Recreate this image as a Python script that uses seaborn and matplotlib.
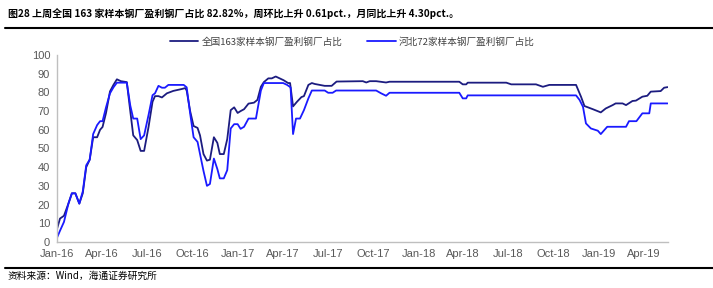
import matplotlib
matplotlib.use("Agg")
import matplotlib.pyplot as plt
import matplotlib.dates as mdates
import seaborn as sns
import pandas as pd

sns.set_theme(style="white")
plt.rcParams['font.family'] = ['Liberation Sans', 'Noto Sans CJK SC', 'DejaVu Sans']

title_text = "图28 上周全国 163 家样本钢厂盈利钢厂占比 82.82%，周环比上升 0.61pct.，月同比上升 4.30pct.。"
source_text = "资料来源：Wind，海通证券研究所"
name_national = "全国163家样本钢厂盈利钢厂占比"
name_hebei = "河北72家样本钢厂盈利钢厂占比"

national_dates = [
    "2016-01-01", "2016-01-07", "2016-01-15", "2016-01-24", "2016-01-31", "2016-02-07",
    "2016-02-15", "2016-02-22", "2016-02-29", "2016-03-07", "2016-03-14", "2016-03-22",
    "2016-03-28", "2016-04-02", "2016-04-09", "2016-04-17", "2016-04-24", "2016-05-01",
    "2016-05-09", "2016-05-21", "2016-05-28", "2016-06-03", "2016-06-11", "2016-06-18",
    "2016-06-25", "2016-07-04", "2016-07-12", "2016-07-17", "2016-07-24", "2016-07-31",
    "2016-08-10", "2016-08-23", "2016-09-09", "2016-09-16", "2016-09-19", "2016-09-26",
    "2016-10-03", "2016-10-11", "2016-10-16", "2016-10-23", "2016-10-30", "2016-11-05",
    "2016-11-13", "2016-11-20", "2016-11-25", "2016-12-03", "2016-12-10", "2016-12-17",
    "2016-12-24", "2016-12-31", "2017-01-06", "2017-01-13", "2017-01-22", "2017-02-02",
    "2017-02-09", "2017-02-16", "2017-02-22", "2017-03-03", "2017-03-10", "2017-03-18",
    "2017-03-26", "2017-04-03", "2017-04-12", "2017-04-16", "2017-04-22", "2017-04-30",
    "2017-05-09", "2017-05-14", "2017-05-23", "2017-05-30", "2017-06-05", "2017-06-25",
    "2017-07-09", "2017-07-19", "2017-09-10", "2017-09-17", "2017-09-24", "2017-10-07",
    "2017-10-27", "2017-11-03", "2018-03-24", "2018-03-31", "2018-04-07", "2018-04-10",
    "2018-06-27", "2018-07-07", "2018-08-26", "2018-09-09", "2018-09-22", "2018-11-15",
    "2018-11-25", "2018-12-02", "2018-12-19", "2019-01-04", "2019-01-14", "2019-01-28",
    "2019-02-03", "2019-02-17", "2019-02-24", "2019-03-09", "2019-03-16", "2019-03-29",
    "2019-04-08", "2019-04-15", "2019-05-05", "2019-05-12", "2019-05-19",
]
national_values = [
    7, 12.5, 14, 20.5, 26, 26,
    20.5, 26, 40, 44, 56, 56,
    60, 61.5, 69, 80.5, 84, 87,
    86, 85.5, 70, 57, 54.5, 48.7,
    48.7, 61.6, 75, 78, 78, 77.3,
    79.5, 80.8, 81.8, 82.3, 81, 70,
    62, 61, 57, 47, 43.5, 44,
    56, 53, 47, 47, 55, 70.5,
    72, 69, 70, 71, 74, 74.5,
    76, 83, 85.5, 87.5, 87.5, 88.5,
    87.5, 86.5, 85, 85, 72.5, 75,
    77.5, 78, 84, 85, 84.5, 83.5,
    83.5, 85.8, 86, 85.3, 86, 86,
    85.3, 85.7, 85.7, 84.3, 84.3, 85.2,
    85.2, 84.3, 84.3, 83, 84, 84,
    77.7, 72.7, 71, 69.3, 71.4, 73.2,
    74.1, 74.1, 73.2, 75.4, 75.6, 77.7,
    78.2, 80.4, 80.7, 82.5, 82.82,
]

hebei_dates = [
    "2016-01-01", "2016-01-07", "2016-01-15", "2016-01-24", "2016-01-31", "2016-02-07",
    "2016-02-15", "2016-02-22", "2016-02-29", "2016-03-07", "2016-03-14", "2016-03-22",
    "2016-03-28", "2016-04-02", "2016-04-09", "2016-04-17", "2016-04-24", "2016-05-01",
    "2016-05-21", "2016-05-28", "2016-06-03", "2016-06-11", "2016-06-18", "2016-06-25",
    "2016-07-04", "2016-07-12", "2016-07-17", "2016-07-24", "2016-07-31", "2016-08-06",
    "2016-08-13", "2016-09-13", "2016-09-19", "2016-09-26", "2016-10-03", "2016-10-11",
    "2016-10-16", "2016-10-23", "2016-10-30", "2016-11-05", "2016-11-13", "2016-11-20",
    "2016-11-25", "2016-12-03", "2016-12-10", "2016-12-17", "2016-12-24", "2016-12-31",
    "2017-01-06", "2017-01-13", "2017-01-22", "2017-02-06", "2017-02-16", "2017-02-22",
    "2017-04-02", "2017-04-10", "2017-04-17", "2017-04-22", "2017-04-28", "2017-05-06",
    "2017-05-14", "2017-05-23", "2017-05-30", "2017-06-25", "2017-07-02", "2017-07-11",
    "2017-07-18", "2017-10-07", "2017-10-17", "2017-10-27", "2017-11-03", "2018-03-24",
    "2018-03-31", "2018-04-07", "2018-04-10", "2018-11-15", "2018-11-22", "2018-11-29",
    "2018-12-05", "2018-12-15", "2018-12-29", "2019-01-04", "2019-01-17", "2019-02-24",
    "2019-03-02", "2019-03-17", "2019-03-29", "2019-04-12", "2019-04-15", "2019-05-19",
]
hebei_values = [
    2.3, 6, 10.7, 20.5, 26, 26,
    20.5, 27, 41, 44, 57.7, 62.5,
    64.6, 64.6, 72, 79.5, 82.7, 85.2,
    85.2, 73, 66, 66, 55, 57,
    68, 78.5, 79.5, 83.5, 82.5, 82.5,
    84, 84, 82.7, 68.8, 56, 53.5,
    47, 38, 30, 31, 44.6, 39,
    34, 34, 38.4, 60.7, 63, 63,
    60.5, 61.6, 66, 66, 81, 85,
    85, 84, 82.7, 57.7, 66, 66,
    70.5, 76.8, 81, 81, 79.8, 79.8,
    81, 81, 79.5, 78.2, 79.8, 79.8,
    76.8, 76.8, 78.4, 78.4, 76, 72.3,
    63.4, 60.7, 59.5, 57.7, 61.6, 61.6,
    64.6, 64.6, 68.8, 68.8, 74.1, 74.1,
]

df = pd.concat([
    pd.DataFrame({"date": pd.to_datetime(national_dates), "value": national_values, "series": name_national}),
    pd.DataFrame({"date": pd.to_datetime(hebei_dates), "value": hebei_values, "series": name_hebei}),
])

fig = plt.figure(figsize=(7.13, 2.88), dpi=100)
ax = fig.add_axes([0.080, 0.160, 0.857, 0.649])

palette = {name_national: "#1c1c80", name_hebei: "#1a1aff"}
sns.lineplot(data=df, x="date", y="value", hue="series", palette=palette,
             linewidth=1.3, ax=ax, legend=True, estimator=None, sort=True)

ax.set_xlim(pd.Timestamp("2016-01-01"), pd.Timestamp("2019-05-20"))
ax.set_ylim(0, 100)
ax.set_yticks(range(0, 101, 10))
ax.xaxis.set_major_locator(mdates.MonthLocator(bymonth=[1, 4, 7, 10]))
ax.xaxis.set_major_formatter(mdates.DateFormatter("%b-%y"))
ax.set_xlabel("")
ax.set_ylabel("")
for s in ["top", "right"]:
    ax.spines[s].set_visible(False)
for s in ["left", "bottom"]:
    ax.spines[s].set_color("#bfbfbf")
    ax.spines[s].set_linewidth(1.0)
ax.tick_params(axis="both", colors="#595959", labelsize=8, length=3, width=0.8,
               direction="out", pad=2)
ax.tick_params(axis="both", color="#bfbfbf")
ax.grid(False)

leg = ax.legend(loc="center", bbox_to_anchor=(0.483, 1.07), ncol=2, frameon=False,
                fontsize=6.9, handlelength=3.0, columnspacing=2.6, handletextpad=0.3,
                borderaxespad=0, borderpad=0)
for t in leg.get_texts():
    t.set_color("#404040")
    t.set_family(['Noto Sans CJK SC', 'DejaVu Sans'])

fig.text(0.011, 0.952, title_text, fontsize=7.2, fontweight="bold", color="black",
         ha="left", va="center", family=['Noto Sans CJK SC', 'DejaVu Sans'])
fig.add_artist(plt.Line2D([0.007, 1.0], [0.903, 0.903], color="black", linewidth=1.5,
                          transform=fig.transFigure))
fig.add_artist(plt.Line2D([0.007, 1.0], [0.069, 0.069], color="black", linewidth=1.5,
                          transform=fig.transFigure))
fig.text(0.011, 0.042, source_text, fontsize=7, color="black", ha="left", va="center",
         family=['Noto Sans CJK SC', 'DejaVu Sans'])

fig.savefig("out.png", dpi=100)
